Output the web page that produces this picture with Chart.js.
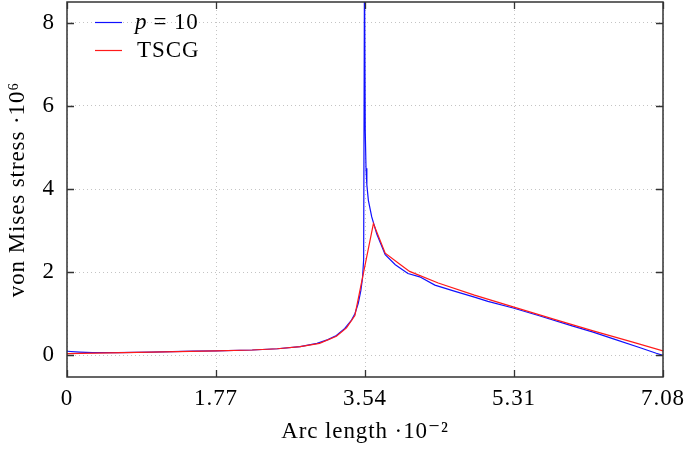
<!DOCTYPE html>
<html>
<head>
<meta charset="utf-8">
<script src="https://cdn.jsdelivr.net/npm/chart.js@4/dist/chart.umd.min.js"></script>
<style>
  html, body { margin: 0; padding: 0; background: #fff; }
</style>
</head>
<body>
<canvas id="stressChart" width="685" height="464"></canvas>
<script>
// arc length (x 10^-2) and von Mises stress (x 10^6)
var p10X = [0, 0.15, 0.3, 0.6, 1.0, 1.5, 1.77, 2.2, 2.5, 2.77, 2.97, 3.1, 3.2, 3.3, 3.38, 3.42, 3.46, 3.49, 3.51,
            3.524, 3.534, 3.543, 3.552, 3.562, 3.58, 3.62, 3.68, 3.78, 3.9, 4.05, 4.19, 4.37, 4.61, 4.84,
            5.0, 5.3, 5.6, 6.0, 6.25, 6.5, 6.8, 7.0, 7.08];
var p10Y = [0.10, 0.08, 0.065, 0.065, 0.08, 0.10, 0.11, 0.13, 0.16, 0.21, 0.29, 0.38, 0.48, 0.65, 0.85, 1.0, 1.25, 1.55, 1.85,
            2.3, 9.5, 5.4, 4.5, 4.1, 3.73, 3.33, 2.92, 2.42, 2.18, 1.97, 1.89, 1.69, 1.54, 1.40,
            1.30, 1.14, 0.96, 0.71, 0.56, 0.39, 0.19, 0.05, 0.0];

var tscgX = [0, 0.5, 1.0, 1.77, 2.2, 2.5, 2.77, 3.0, 3.2, 3.32, 3.42, 3.64, 3.78, 3.95, 4.07, 4.41, 4.84,
             5.31, 5.8, 6.25, 6.7, 7.08];
var tscgY = [0.04, 0.06, 0.08, 0.11, 0.13, 0.16, 0.21, 0.29, 0.46, 0.66, 0.96, 3.17, 2.46, 2.2, 2.02, 1.74, 1.45,
             1.16, 0.86, 0.59, 0.33, 0.11];

var xTicks = [0, 1.77, 3.54, 5.31, 7.08];
var yTicks = [0, 2, 4, 6, 8];

var serif = '"Liberation Serif", "DejaVu Serif", serif';
var fontSize = 23;

function toPoints(xs, ys) {
    return xs.map(function (x, i) { return { x: x, y: ys[i] }; });
}

function setTicks(list) {
    return function (scale) {
        scale.ticks = list.map(function (v) { return { value: v }; });
    };
}

// a bit of tracking so the Times-like font gets closer to the LaTeX width
var spacingPlugin = {
    id: 'spacing',
    beforeLayout: function (chart) { chart.ctx.letterSpacing = '0.9px'; },
    beforeDraw: function (chart) { chart.ctx.letterSpacing = '0.9px'; }
};

// frame with inward tick marks + legend, pgfplots style
var framePlugin = {
    id: 'frame',
    afterDatasetsDraw: function (chart) {
        var ctx = chart.ctx;
        var a = chart.chartArea;
        var sx = chart.scales.x, sy = chart.scales.y;
        ctx.save();
        ctx.strokeStyle = '#333';
        ctx.lineWidth = 1.3;
        ctx.beginPath();
        xTicks.forEach(function (v) {
            var px = Math.round(sx.getPixelForValue(v)) + 0.5;
            ctx.moveTo(px, a.bottom); ctx.lineTo(px, a.bottom - 7);
            ctx.moveTo(px, a.top); ctx.lineTo(px, a.top + 7);
        });
        yTicks.forEach(function (v) {
            var py = Math.round(sy.getPixelForValue(v)) + 0.5;
            ctx.moveTo(a.left, py); ctx.lineTo(a.left + 7, py);
            ctx.moveTo(a.right, py); ctx.lineTo(a.right - 7, py);
        });
        ctx.stroke();
        ctx.lineWidth = 1.5;
        ctx.strokeRect(a.left, a.top, a.right - a.left, a.bottom - a.top);

        // legend
        var rows = [
            { color: '#1010ff', y: 22.5 },
            { color: '#ff1a1a', y: 50.5 }
        ];
        ctx.lineWidth = 1.2;
        rows.forEach(function (r) {
            ctx.strokeStyle = r.color;
            ctx.beginPath();
            ctx.moveTo(95, r.y); ctx.lineTo(122, r.y);
            ctx.stroke();
        });
        ctx.fillStyle = '#000';
        ctx.textBaseline = 'middle';
        ctx.textAlign = 'left';
        ctx.font = 'italic ' + fontSize + 'px ' + serif;
        ctx.fillText('p', 135, rows[0].y);
        var w = ctx.measureText('p').width;
        ctx.font = fontSize + 'px ' + serif;
        ctx.fillText('= 10', 135 + w + 6, rows[0].y);
        ctx.fillText('TSCG', 137, rows[1].y);
        ctx.restore();
    }
};

var ctx = document.getElementById('stressChart').getContext('2d');
var theChart = new Chart(ctx, {
    type: 'scatter',
    data: {
        datasets: [
            {
                label: 'p = 10',
                data: toPoints(p10X, p10Y),
                showLine: true,
                borderColor: '#1010ff',
                borderWidth: 1.2,
                pointRadius: 0,
                tension: 0,
                order: 1
            },
            {
                label: 'TSCG',
                data: toPoints(tscgX, tscgY),
                showLine: true,
                borderColor: '#ff1a1a',
                borderWidth: 1.2,
                pointRadius: 0,
                tension: 0,
                order: 0
            }
        ]
    },
    options: {
        responsive: false,
        animation: false,
        layout: { padding: { top: 2, right: 22, left: 0, bottom: 0 } },
        plugins: {
            legend: { display: false },
            tooltip: { enabled: false }
        },
        scales: {
            x: {
                type: 'linear',
                min: 0,
                max: 7.08,
                afterBuildTicks: setTicks(xTicks),
                afterFit: function (scale) {
                    scale.height = 87;
                    scale.paddingLeft = 0;
                    scale.paddingRight = 0;
                },
                grid: { color: '#c4c4c4', lineWidth: 1, drawTicks: false },
                border: { display: false, dash: [1, 3] },
                ticks: {
                    padding: 8,
                    color: '#000',
                    font: { family: serif, size: fontSize },
                    maxRotation: 0,
                    callback: function (v) { return v === 0 ? '0' : v.toFixed(2); }
                },
                title: {
                    display: true,
                    text: 'Arc length ·10⁻²',
                    color: '#000',
                    font: { family: serif, size: fontSize },
                    padding: { top: 0, bottom: 18 }
                }
            },
            y: {
                type: 'linear',
                min: -0.52,
                max: 8.5,
                afterBuildTicks: setTicks(yTicks),
                afterFit: function (scale) {
                    scale.width = 67;
                    scale.paddingTop = 0;
                    scale.paddingBottom = 0;
                },
                grid: { color: '#c4c4c4', lineWidth: 1, drawTicks: false },
                border: { display: false, dash: [1, 3] },
                ticks: {
                    padding: 12,
                    color: '#000',
                    font: { family: serif, size: fontSize },
                    callback: function (v) { return String(v); }
                },
                title: {
                    display: true,
                    text: 'von Mises stress ·10⁶',
                    color: '#000',
                    font: { family: serif, size: fontSize },
                    padding: { top: 4, bottom: 0 }
                }
            }
        }
    },
    plugins: [spacingPlugin, framePlugin]
});
</script>
</body>
</html>
